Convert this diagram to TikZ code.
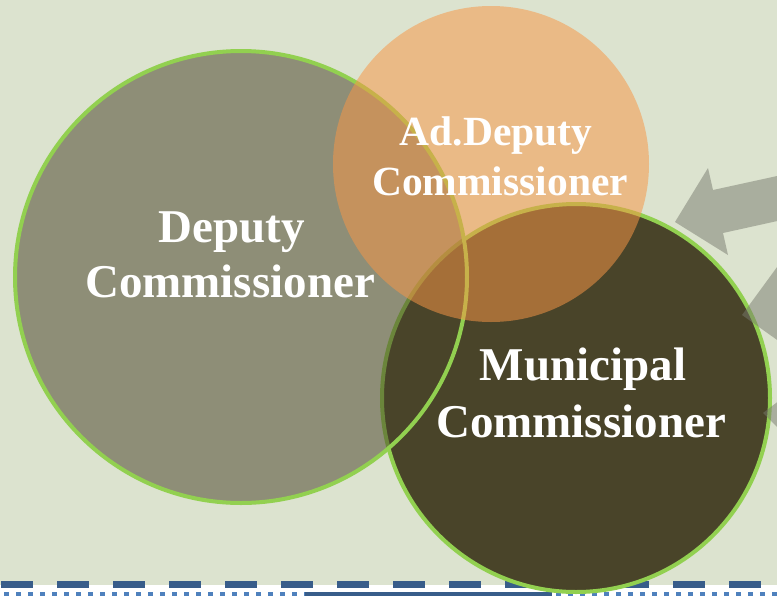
\documentclass[tikz,border=0pt]{standalone}
\usepackage{fontspec}
\setmainfont{Liberation Serif}
\definecolor{bgc}{RGB}{220,227,207}
\definecolor{olv}{RGB}{73,68,41}
\definecolor{grn}{RGB}{146,208,80}
\definecolor{org}{RGB}{247,150,70}
\definecolor{arw}{RGB}{120,122,110}
\definecolor{dkb}{RGB}{56,93,138}
\definecolor{ltb}{RGB}{79,129,189}
\begin{document}
\begin{tikzpicture}[x=1pt,y=-1pt,
  venn/.style={circle,inner sep=0pt,outer sep=0pt,line width=4pt,draw=grn},
  lbl/.style={text=white,font=\bfseries\fontsize{47}{56}\selectfont,anchor=base,inner sep=0pt},
  lbls/.style={text=white,font=\bfseries\fontsize{41.5}{50}\selectfont,anchor=base,inner sep=0pt},
  arrowshape/.style={fill=arw,fill opacity=0.5}]
\useasboundingbox (0,0) rectangle (777,595);
\clip (0,0) rectangle (777,595);
\fill[white] (0,0) rectangle (777,595);
\fill[bgc] (0,0) rectangle (777,585);
\foreach \i in {0,...,13} \fill[dkb] ({1+56*\i},581) rectangle ({33+56*\i},588);
\foreach \i in {0,...,64} \fill[ltb] ({4+12*\i},592) rectangle ({9+12*\i},597);
\fill[dkb] (305,592) rectangle (552,597);
% circles
\node[venn,fill=olv,minimum size=388pt] (mc) at (576,398) {};
\node[venn,fill=olv,fill opacity=0.53,minimum size=452pt] (dc) at (241,277) {};
\node[circle,inner sep=0pt,outer sep=0pt,fill=org,fill opacity=0.53,minimum size=316pt] (adc) at (491,164) {};
% arrows
\fill[arrowshape] (675,222) -- (708,168) -- (713,190) -- (800,171) -- (800,216) -- (723,233) -- (728,255) -- cycle;
\fill[arrowshape] (742,315) -- (780,263) -- (780,342) -- cycle;
\fill[arrowshape] (763,413) -- (780,400) -- (780,430) -- cycle;
% labels
\node[lbl] (dc1) at (232,242) {Deputy};
\node[lbl] (dc2) at (230,297) {Commissioner};
\node[lbls] (ad1) at (496,145) {Ad.Deputy};
\node[lbls] (ad2) at (500,195) {Commissioner};
\node[lbl] (mc1) at (583,380) {Municipal};
\node[lbl] (mc2) at (581,437) {Commissioner};
\end{tikzpicture}
\end{document}
